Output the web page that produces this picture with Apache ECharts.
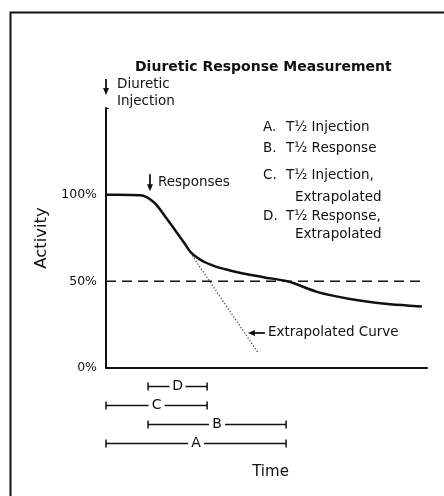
<!DOCTYPE html>
<html><head><meta charset="utf-8">
<script src="https://cdn.jsdelivr.net/npm/echarts@6/dist/echarts.min.js"></script>
<style>html,body{margin:0;padding:0;background:#fff}#c{width:444px;height:496px}</style>
</head><body><div id="c"></div>
<script>
// ---- data ----
const titleText = 'Diuretic Response Measurement';
const curveTime = [0, 1.06, 1.5, 1.9, 2.46, 2.62, 2.93, 3.40, 3.86, 4.9, 5.65, 6.6, 7.6, 8.7, 9.84];
const curveActivity = [100, 99.7, 95.5, 86, 71.5, 67.2, 62.6, 58.6, 56.3, 52.4, 50, 43.8, 39.8, 37, 35.5];
const extrapTime = [2.46, 4.74];
const extrapActivity = [71.0, 8.7];
const halfLineTime = [0, 9.97];
const halfLevel = 50;
const yTickValues = [0, 50, 100];
const intervalNames = ['D', 'C', 'B', 'A'];
const intervalStart = [1.31, 0, 1.31, 0];
const intervalEnd = [3.15, 3.15, 5.61, 5.61];
const legendKeys = ['A.', 'B.', 'C.', '', 'D.', ''];
const legendTexts = ['T½ Injection', 'T½ Response', 'T½ Injection,', 'Extrapolated', 'T½ Response,', 'Extrapolated'];
const injectionTime = 0;
const responseTime = 1.37;
const extrapLabelPoint = [4.42, 20.2];

const FONT = '"DejaVu Sans", "Liberation Sans", sans-serif';
const INK = '#111';
const chart = echarts.init(document.getElementById('c'), null, {renderer: 'canvas'});

const intervalData = intervalNames.map((n, i) => [i, intervalStart[i], intervalEnd[i]]);
const curveData = curveTime.map((t, i) => [t, curveActivity[i]]);

// monotone cubic path (Steffen / d3 monotoneX style) through pixel points
function monotonePath(pts) {
  const n = pts.length, h = [], d = [], m = [];
  for (let i = 0; i < n - 1; i++) {
    h[i] = pts[i + 1][0] - pts[i][0];
    d[i] = (pts[i + 1][1] - pts[i][1]) / h[i];
  }
  for (let i = 1; i < n - 1; i++) {
    const p = (d[i - 1] * h[i] + d[i] * h[i - 1]) / (h[i - 1] + h[i]);
    m[i] = (Math.sign(d[i - 1]) + Math.sign(d[i])) *
      Math.min(Math.abs(d[i - 1]), Math.abs(d[i]), 0.5 * Math.abs(p)) || 0;
  }
  m[0] = d[0];
  m[n - 1] = d[n - 2];
  let s = 'M' + pts[0][0] + ' ' + pts[0][1];
  for (let i = 0; i < n - 1; i++) {
    const dx = h[i] / 3;
    s += ' C' + (pts[i][0] + dx) + ' ' + (pts[i][1] + m[i] * dx) + ' ' +
      (pts[i + 1][0] - dx) + ' ' + (pts[i + 1][1] - m[i + 1] * dx) + ' ' +
      pts[i + 1][0] + ' ' + pts[i + 1][1];
  }
  return s;
}

chart.setOption({
  animation: false,
  backgroundColor: '#fff',
  title: {
    text: titleText, left: 130, top: 55,
    textStyle: {fontFamily: FONT, fontSize: 14, fontWeight: 'bold', color: INK}
  },
  grid: [
    {left: 106, right: 17, top: 108, bottom: 128},
    {left: 106, right: 17, top: 377, height: 76}
  ],
  xAxis: [
    {gridIndex: 0, type: 'value', min: 0, max: 10,
     axisLine: {show: true, lineStyle: {color: INK, width: 2}}, axisTick: {show: false},
     axisLabel: {show: false}, splitLine: {show: false},
     name: 'Time', nameLocation: 'middle', nameGap: 97,
     nameTextStyle: {fontFamily: FONT, fontSize: 15, color: INK, padding: [0, 0, 0, 8]}},
    {gridIndex: 1, type: 'value', min: 0, max: 10, show: false}
  ],
  yAxis: [
    {gridIndex: 0, type: 'value', min: 0, max: 150, interval: 50,
     axisLine: {show: true, lineStyle: {color: INK, width: 2}},
     axisTick: {show: true, inside: true, length: 3, lineStyle: {color: INK}},
     splitLine: {show: false},
     axisLabel: {margin: 9, fontFamily: FONT, fontSize: 12.5, color: INK,
       formatter: v => yTickValues.indexOf(v) >= 0 ? v + '%' : ''},
     name: 'Activity', nameLocation: 'middle', nameGap: 43, nameRotate: 90,
     nameTextStyle: {fontFamily: FONT, fontSize: 16.5, color: INK, padding: [0, 0, 6, 0]}},
    {gridIndex: 1, type: 'category', data: intervalNames, inverse: true, show: false}
  ],
  series: [
    {type: 'line', xAxisIndex: 0, yAxisIndex: 0, symbol: 'none',
     data: halfLineTime.map(t => [t, halfLevel]),
     lineStyle: {color: INK, width: 1.5, type: [10, 6]}},
    {type: 'line', xAxisIndex: 0, yAxisIndex: 0, symbol: 'none',
     data: extrapTime.map((t, i) => [t, extrapActivity[i]]),
     lineStyle: {color: '#333', width: 1.2, type: [1.2, 2]}},
    {type: 'custom', xAxisIndex: 0, yAxisIndex: 0, data: curveData,
     encode: {x: 0, y: 1},
     renderItem: function (params, api) {
       if (params.dataIndex !== 0) return null;
       const pts = curveData.map(p => api.coord(p));
       return {type: 'path', shape: {pathData: monotonePath(pts)},
         style: {fill: 'none', stroke: INK, lineWidth: 2.5}};
     }},
    {type: 'custom', xAxisIndex: 1, yAxisIndex: 1, data: intervalData,
     encode: {x: [1, 2], y: 0},
     renderItem: function (params, api) {
       const cat = api.value(0), s = api.value(1), e = api.value(2);
       const p1 = api.coord([s, cat]), p2 = api.coord([e, cat]);
       const y = p1[1], mid = (p1[0] + p2[0]) / 2, gap = 8;
       const st = {stroke: INK, lineWidth: 1.5};
       return {type: 'group', children: [
         {type: 'line', shape: {x1: p1[0], y1: y, x2: mid - gap, y2: y}, style: st},
         {type: 'line', shape: {x1: mid + gap, y1: y, x2: p2[0], y2: y}, style: st},
         {type: 'line', shape: {x1: p1[0], y1: y - 4, x2: p1[0], y2: y + 4}, style: st},
         {type: 'line', shape: {x1: p2[0], y1: y - 4, x2: p2[0], y2: y + 4}, style: st},
         {type: 'text', style: {text: intervalNames[params.dataIndex], x: mid, y: y,
           align: 'center', verticalAlign: 'middle', font: '14px ' + FONT, fill: INK}}
       ]};
     }}
  ]
});

function arrowDown(x, y1, y2) {
  return [
    {type: 'line', shape: {x1: x, y1: y1, x2: x, y2: y2 - 5}, style: {stroke: INK, lineWidth: 1.8}},
    {type: 'polygon', shape: {points: [[x - 3, y2 - 7], [x + 3, y2 - 7], [x, y2]]}, style: {fill: INK}}
  ];
}
function arrowLeft(x1, x2, y) {
  return [
    {type: 'line', shape: {x1: x1, y1: y, x2: x2 + 5, y2: y}, style: {stroke: INK, lineWidth: 1.8}},
    {type: 'polygon', shape: {points: [[x2 + 7, y - 3], [x2 + 7, y + 3], [x2, y]]}, style: {fill: INK}}
  ];
}
function txt(s, x, y, size, weight) {
  return {type: 'text', x: x, y: y, style: {text: s, font: (weight || 'normal') + ' ' + (size || 13.5) + 'px ' + FONT,
    fill: INK, verticalAlign: 'middle', align: 'left'}};
}

const inj = chart.convertToPixel({gridIndex: 0}, [injectionTime, 160]);
const resp = chart.convertToPixel({gridIndex: 0}, [responseTime, 102]);
const ext = chart.convertToPixel({gridIndex: 0}, extrapLabelPoint);

const g = [];
g.push({type: 'rect', shape: {x: 10.5, y: 12.5, width: 600, height: 600}, style: {fill: null, stroke: INK, lineWidth: 2}});
arrowDown(inj[0], 79, 95).forEach(e => g.push(e));
g.push(txt('Diuretic', inj[0] + 11, 84));
g.push(txt('Injection', inj[0] + 11, 101));
arrowDown(resp[0], resp[1] - 17, resp[1]).forEach(e => g.push(e));
g.push(txt('Responses', resp[0] + 8, resp[1] - 9));
arrowLeft(ext[0] + 17, ext[0], ext[1]).forEach(e => g.push(e));
g.push(txt('Extrapolated Curve', ext[0] + 20, ext[1]));
const legendY = [127, 148, 175, 197, 216, 234];
legendKeys.forEach((k, i) => {
  if (k) g.push(txt(k, 263, legendY[i]));
  g.push(txt(legendTexts[i], k ? 286 : 295, legendY[i]));
});
chart.setOption({graphic: g});
</script>
</body></html>
